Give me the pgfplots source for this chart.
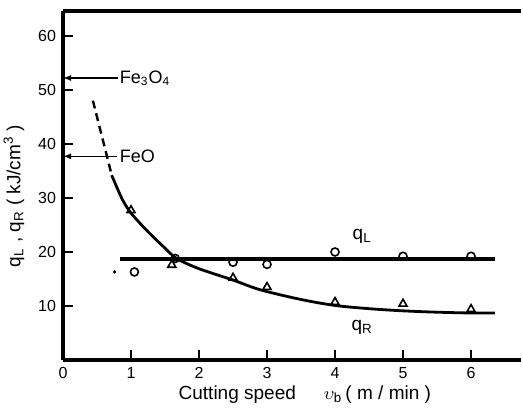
\documentclass[border=0pt]{standalone}
\usepackage{fontspec}
\setmainfont{Liberation Sans}
\usepackage{pgfplots}
\pgfplotsset{compat=1.18}
\usetikzlibrary{arrows.meta}

\begin{document}
\begin{tikzpicture}
\begin{axis}[
  scale only axis, width=229pt, height=174.5pt,
  xmin=0, xmax=6.735, ymin=0, ymax=64.6,
  axis x line*=box, axis y line*=left,
  axis line style={line width=1.8pt, -},
  tick pos=left,
  xtick={0,1,...,6}, ytick={10,20,...,60},
  tick align=inside, major tick length=5pt,
  tick style={line width=0.9pt, black},
  ticklabel style={font=\fontsize{8}{9}\selectfont},
  /pgf/number format/assume math mode=true,
  xlabel={Cutting speed\hspace{14pt}$\upsilon_{\mathrm{b}}$\,( m / min )},
  ylabel={q\textsubscript{L} , q\textsubscript{R} ( kJ/cm\textsuperscript{3} )},
  label style={font=\fontsize{9.5}{11}\selectfont},
  xlabel style={at={(axis description cs:0.528,0)}, anchor=base, yshift=-19.5pt},
  ylabel style={at={(ticklabel cs:0.47)}},
]
% q_L fit line
\addplot[black, line width=1.6pt] coordinates {(0.84,18.7)(6.35,18.7)};
% q_R curve, dashed part then solid
\addplot[black, line width=1.2pt, dash pattern=on 4pt off 2.5pt, smooth]
  coordinates {(0.44,48)(0.55,42.5)(0.645,37.8)(0.716,34.2)};
\addplot[black, line width=1.4pt, smooth] coordinates {
  (0.716,34.2)(0.87,29.8)(1,27.2)(1.23,24.0)(1.475,21.0)(1.67,18.8)(2,16.9)(2.5,14.8)
  (2.9,13.0)(3.5,11.2)(4,10.1)(4.5,9.5)(5,9.1)(5.5,8.85)(6,8.7)(6.35,8.7)};
% measured q_L
\addplot[only marks, mark=o, mark size=2pt, mark options={line width=0.8pt, fill=white}]
  coordinates {(1.05,16.3)(1.65,18.8)(2.5,18.1)(3,17.7)(4,20)(5,19.2)(6,19.2)};
% measured q_R
\addplot[only marks, mark=triangle, mark size=2.3pt, mark options={line width=0.8pt, fill=white}]
  coordinates {(1,27.7)(1.6,17.6)(2.5,15.2)(3,13.5)(4,10.7)(5,10.4)(6,9.4)};
\addplot[only marks, mark=*, mark size=0.6pt] coordinates {(0.76,16.3)};
% oxide levels
\addplot[black, line width=0.7pt, -{Latex[length=4pt,width=3pt]}] coordinates {(0.81,52.2)(0,52.2)};
\addplot[black, line width=0.7pt, -{Latex[length=4pt,width=3pt]}] coordinates {(0.80,37.7)(0,37.7)};
\node[anchor=west, inner sep=0pt, font=\fontsize{9}{10}\selectfont] at (axis cs:0.83,52.2) {Fe\textsubscript{3}O\textsubscript{4}};
\node[anchor=west, inner sep=0pt, font=\fontsize{9}{10}\selectfont] at (axis cs:0.83,37.7) {FeO};
\node[font=\fontsize{9.5}{10}\selectfont] at (axis cs:4.4,22.8) {q\textsubscript{L}};
\node[font=\fontsize{9.5}{10}\selectfont] at (axis cs:4.4,6.0) {q\textsubscript{R}};
\end{axis}
\pgfresetboundingbox
\useasboundingbox (-31.5pt,-23.5pt) rectangle (230pt,180pt);
\end{tikzpicture}
\end{document}
